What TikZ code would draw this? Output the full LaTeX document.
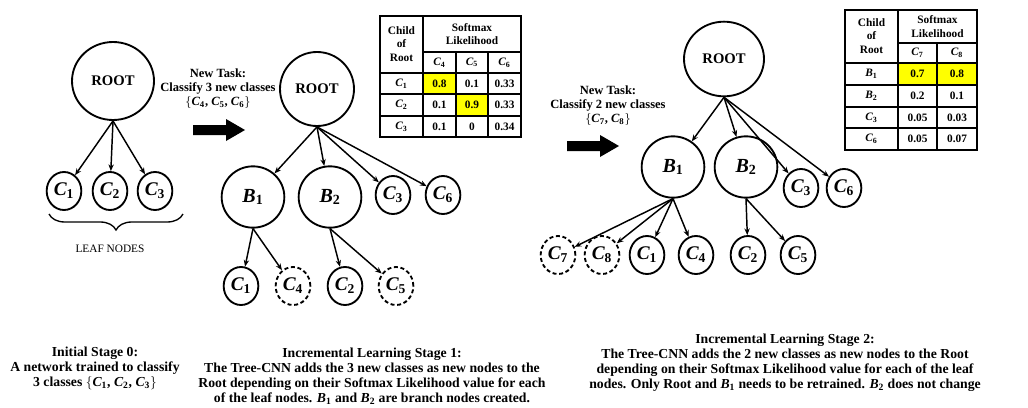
\documentclass[tikz,border=0pt]{standalone}
\usepackage{fontspec}
\setmainfont{Liberation Serif}
\usepackage{amsmath}
\usetikzlibrary{arrows.meta, shapes.geometric, positioning, decorations.pathreplacing}
\definecolor{hiyellow}{rgb}{1,1,0}

\newcommand{\bsym}[2]{$\text{\bfseries\itshape #1}_{\text{\bfseries #2}}$}
\newcommand{\cls}[1]{\bsym{C}{#1}}
\newcommand{\brn}[1]{\bsym{B}{#1}}

\begin{document}
\begin{tikzpicture}[x=0.75pt, y=-0.75pt, >={Stealth[length=5pt,width=4pt]},
    rootnode/.style={draw, ellipse, line width=1.4pt, inner sep=0pt, font=\bfseries\fontsize{11}{13}\selectfont},
    branch/.style={draw, ellipse, line width=1.4pt, inner sep=0pt, minimum width=47pt, minimum height=46pt, font=\fontsize{15}{17}\selectfont},
    leaf/.style={draw, ellipse, line width=1.4pt, inner sep=0pt, minimum width=26pt, minimum height=28.5pt, font=\fontsize{14.5}{16}\selectfont},
    newleaf/.style={leaf, dash pattern=on 3pt off 2pt},
    link/.style={->, line width=1.1pt},
    tabrule/.style={line width=1.5pt},
    cell/.style={font=\bfseries\fontsize{8.5}{10}\selectfont, inner sep=0pt},
    task/.style={align=center, font=\bfseries\fontsize{9.4}{10.5}\selectfont},
    caption/.style={align=center, font=\bfseries\fontsize{10.3}{11.25}\selectfont}]
\useasboundingbox (0,0) rectangle (1028,407);

% stage 0
\node[rootnode, minimum width=61.5pt, minimum height=58.5pt] (r0) at (113,81) {ROOT};
\node[leaf] (r0c1) at (64,191) {\cls1};
\node[leaf] (r0c2) at (110,191) {\cls2};
\node[leaf] (r0c3) at (155,191) {\cls3};
\foreach \c in {c1,c2,c3}
{
    \draw[link] (r0.south) -- (r0\c);
}
\draw[line width=1pt, decorate, decoration={brace, mirror, amplitude=12pt}] (49,214) -- (183,214);
\node[font=\fontsize{8.5}{10}\selectfont] (leaves) at (110,249) {LEAF NODES};

% big arrows
\foreach \ax/\ay in {193/130, 567/146}
{
    \fill (\ax,\ay-5) -- ++(33,0) -- ++(0,-6) -- ++(19,11) -- ++(-19,11) -- ++(0,-6) -- ++(-33,0) -- cycle;
}

% stage 1
\node[task] (task1) at (218,89) {New Task:\\Classify 3 new classes\\$\{$\cls4, \cls5, \cls6$\}$};
\node[rootnode, minimum width=55.5pt, minimum height=55.5pt] (r1) at (317,89) {ROOT};
\node[branch] (r1b1) at (253,197) {\brn1};
\node[branch] (r1b2) at (330,197) {\brn2};
\node[leaf] (r1c3) at (393,195) {\cls3};
\node[leaf] (r1c6) at (443,195) {\cls6};
\node[leaf] (r1c1) at (241,286) {\cls1};
\node[newleaf] (r1c4) at (293,286) {\cls4};
\node[leaf] (r1c2) at (345,286) {\cls2};
\node[newleaf] (r1c5) at (396,286) {\cls5};
\foreach \c in {b1,b2,c3,c6}
{
    \draw[link] (r1.south) -- (r1\c);
}
\foreach \c in {c1,c4}
{
    \draw[link] (r1b1.south) -- (r1\c);
}
\foreach \c in {c2,c5}
{
    \draw[link] (r1b2.south) -- (r1\c);
}

% table 1
\fill[hiyellow] (423,73) rectangle (456,94);
\fill[hiyellow] (456,94) rectangle (488,116);
\draw[tabrule] (380,16) rectangle (521,137);
\draw[tabrule] (423,16) -- (423,137);
\draw[tabrule] (423,52) -- (521,52);
\foreach \y in {73,94,116}
{
    \draw[tabrule] (380,\y) -- (521,\y);
}
\foreach \x in {456,488}
{
    \draw[tabrule] (\x,52) -- (\x,137);
}
\node[cell, align=center] (t1child) at (401.5,44) {Child\\of\\Root};
\node[cell, align=center] (t1soft) at (472,34) {Softmax\\Likelihood};
\foreach \x/\k in {439.5/4, 472/5, 504.5/6}
{
    \node[cell] (t1h\k) at (\x,62.5) {\cls\k};
}
\foreach \y/\r/\a/\b/\c in {83.5/1/0.8/0.1/0.33, 105/2/0.1/0.9/0.33, 126.5/3/0.1/0/0.34}
{
    \node[cell] (t1r\r) at (401.5,\y) {\cls\r};
    \node[cell] (t1r\r a) at (439.5,\y) {\a};
    \node[cell] (t1r\r b) at (472,\y) {\b};
    \node[cell] (t1r\r c) at (504.5,\y) {\c};
}

% stage 2
\node[task] (task2) at (608,106) {New Task:\\Classify 2 new classes\\$\{$\cls7, \cls8$\}$};
\node[rootnode, minimum width=60pt, minimum height=56pt] (r2) at (724,59) {ROOT};
\node[branch] (r2b1) at (673,167) {\brn1};
\node[branch] (r2b2) at (746,167) {\brn2};
\node[leaf] (r2c3) at (801,188) {\cls3};
\node[leaf] (r2c6) at (844,188) {\cls6};
\node[newleaf] (r2c7) at (558,255) {\cls7};
\node[newleaf] (r2c8) at (602,255) {\cls8};
\node[leaf] (r2c1) at (647,255) {\cls1};
\node[leaf] (r2c4) at (696,255) {\cls4};
\node[leaf] (r2c2) at (748,255) {\cls2};
\node[leaf] (r2c5) at (798,255) {\cls5};
\foreach \c in {b1,b2,c3,c6}
{
    \draw[link] (r2.south) -- (r2\c);
}
\foreach \c in {c7,c8,c1,c4}
{
    \draw[link] (r2b1.south) -- (r2\c);
}
\foreach \c in {c2,c5}
{
    \draw[link] (r2b2.south) -- (r2\c);
}

% table 2
\fill[hiyellow] (898,63) rectangle (977,85);
\draw[tabrule] (845,10) rectangle (977,150);
\draw[tabrule] (898,10) -- (898,150);
\draw[tabrule] (898,43) -- (977,43);
\foreach \y in {63,85,107,128}
{
    \draw[tabrule] (845,\y) -- (977,\y);
}
\draw[tabrule] (937,43) -- (937,150);
\node[cell, align=center] (t2child) at (871.5,36) {Child\\of\\Root};
\node[cell, align=center] (t2soft) at (937.5,26.5) {Softmax\\Likelihood};
\foreach \x/\k in {917.5/7, 957/8}
{
    \node[cell] (t2h\k) at (\x,53) {\cls\k};
}
\foreach \y/\r/\l/\a/\b in {74/1/{\brn1}/0.7/0.8, 96/2/{\brn2}/0.2/0.1, 117.5/3/{\cls3}/0.05/0.03, 139/4/{\cls6}/0.05/0.07}
{
    \node[cell] (t2r\r) at (871.5,\y) {\l};
    \node[cell] (t2r\r a) at (917.5,\y) {\a};
    \node[cell] (t2r\r b) at (957,\y) {\b};
}

% captions
\node[caption] (cap0) at (95,368) {Initial Stage 0:\\A network trained to classify\\3 classes $\{$\cls1, \cls2, \cls3$\}$};
\node[caption] (cap1) at (372,376) {Incremental Learning Stage 1:\\The Tree-CNN adds the 3 new classes as new nodes to the\\Root depending on their Softmax Likelihood value for each\\of the leaf nodes. \brn1 and \brn2 are branch nodes created.};
\node[caption] (cap2) at (785,363) {Incremental Learning Stage 2:\\The Tree-CNN adds the 2 new classes as new nodes to the Root\\depending on their Softmax Likelihood value for each of the leaf\\nodes. Only Root and \brn1 needs to be retrained. \brn2 does not change};
\end{tikzpicture}
\end{document}
